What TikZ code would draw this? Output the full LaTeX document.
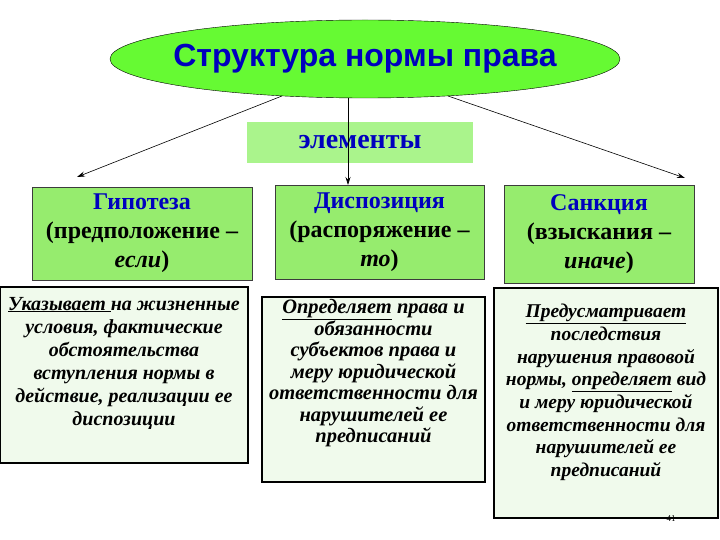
\documentclass[tikz,border=0pt]{standalone}
\usepackage{fontspec}
\setmainfont{Liberation Serif}
\newfontfamily\arialfont{Liberation Sans}
\usetikzlibrary{arrows.meta,positioning,shapes.geometric}
\definecolor{salat}{RGB}{102,250,51}
\definecolor{zelen}{RGB}{150,236,110}
\definecolor{bledn}{RGB}{170,244,140}
\definecolor{myata}{RGB}{240,250,236}
\definecolor{sinij}{RGB}{0,0,190}
\definecolor{ramka}{RGB}{60,60,60}
\tikzset{
  glav/.style={draw=black, ellipse, fill=salat, minimum width=510, minimum height=78, inner xsep=-16pt, inner ysep=0pt, text=sinij, font=\arialfont\bfseries\fontsize{32}{36}\selectfont},
  elem/.style={fill=bledn, minimum width=226, minimum height=41, inner sep=0pt, text=sinij, font=\bfseries\fontsize{28}{30}\selectfont},
  vid/.style={draw=ramka, fill=zelen, inner sep=0pt, align=center, font=\bfseries\fontsize{24}{29}\selectfont},
  opis/.style={draw=black, line width=2pt, fill=myata, inner sep=0pt},
  opist/.style={align=center, inner sep=0pt, font=\bfseries\itshape\fontsize{20}{23}\selectfont},
  strel/.style={-{Stealth[length=8pt, width=5pt]}, semithick, black},
}
\begin{document}
\begin{tikzpicture}[x=1pt,y=-1pt]
  \useasboundingbox (0,0) rectangle (720,540);
  \node[glav] (glava) at (365,59) {Структура нормы права};
  \node[elem] (elementy) at (360,142.5) {элементы};
  \node[vid, minimum width=220, minimum height=93] (hyp) at (142,233.5) {\textcolor{sinij}{Гипотеза}\\(предположение –\\\textit{если})};
  \node[vid, minimum width=209, minimum height=94] (disp) at (379.5,232) {\textcolor{sinij}{Диспозиция}\\(распоряжение –\\\textit{то})};
  \node[vid, minimum width=190, minimum height=98] (sank) at (599,234) {\textcolor{sinij}{Санкция}\\(взыскания –\\\textit{иначе})};
  \coordinate (hypin) at (77,177);
  \coordinate (dispin) at (348,185);
  \coordinate (sankin) at (685,178);
  \draw[strel] (glava.204) -- (hypin);
  \draw[strel] (glava.south -| dispin) -- (dispin);
  \draw[strel] (glava.336) -- (sankin);
  % nizhnie bloki
  \node[opis, minimum width=248, minimum height=176] (hypbox) at (124,375) {};
  \node[opis, minimum width=223, minimum height=185] (dispbox) at (373.5,389.5) {};
  \node[opis, minimum width=224, minimum height=230] (sankbox) at (606,403) {};
  \node[opist] (hyptxt) at (hypbox.center) [yshift=12] {\underline{Указывает }на жизненные\\условия, фактические\\обстоятельства\\вступления нормы в\\действие, реализации ее\\диспозиции};
  \node[opist, font=\bfseries\itshape\fontsize{20.5}{21.5}\selectfont] (disptxt) at (dispbox.center) [yshift=16] {\underline{Определяет} права и\\обязанности\\субъектов права и\\меру юридической\\ответственности для\\нарушителей ее\\предписаний};
  \node[opist, font=\bfseries\itshape\fontsize{19.5}{22.7}\selectfont] (sanktxt) at (sankbox.center) [yshift=10.5] {\underline{Предусматривает}\\последствия\\нарушения правовой\\нормы, \underline{определяет} вид\\и меру юридической\\ответственности для\\нарушителей ее\\предписаний};
  \node[font=\fontsize{9}{10}\selectfont, inner sep=0pt] (nomer) at (671,519) {41};
\end{tikzpicture}
\end{document}
